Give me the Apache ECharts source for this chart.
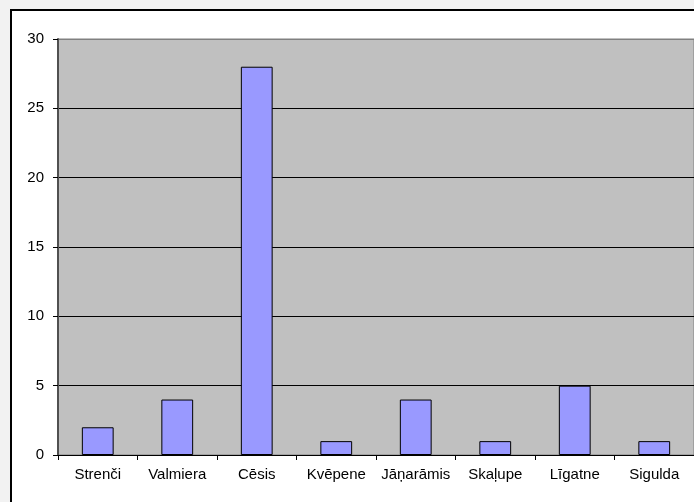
<!DOCTYPE html>
<html><head><meta charset="utf-8">
<script src="https://cdn.jsdelivr.net/npm/echarts@6/dist/echarts.min.js"></script>
<style>html,body{margin:0;padding:0;background:#f2f2f2;}#c{width:694px;height:502px;}</style>
</head><body><div id="c"></div>
<script>
const categories = ['Strenči','Valmiera','Cēsis','Kvēpene','Jāņarāmis','Skaļupe','Līgatne','Sigulda'];
const values = [2,4,28,1,4,1,5,1];
const yTicks = [0,5,10,15,20,25,30];

const chart = echarts.init(document.getElementById('c'), null, {renderer:'canvas'});
chart.setOption({
  backgroundColor: '#f2f2f2',
  animation: false,
  graphic: [{
    type: 'rect', z: -10, silent: true,
    shape: {x: 11, y: 10, width: 720, height: 520},
    style: {fill: '#ffffff', stroke: '#000000', lineWidth: 2}
  }],
  grid: {left: 58, top: 39, right: 0, bottom: 47, show: true,
         backgroundColor: '#c0c0c0', borderColor: '#808080', borderWidth: 1},
  xAxis: {
    type: 'category', data: categories,
    axisLine: {lineStyle: {color: '#000', width: 1}},
    axisTick: {show: true, length: 5, lineStyle: {color: '#000'}},
    axisLabel: {color: '#000', fontFamily: 'Liberation Sans, Arial', fontSize: 15, margin: 12, interval: 0}
  },
  yAxis: {
    type: 'value', min: yTicks[0], max: yTicks[yTicks.length-1], interval: 5,
    axisLine: {show: true, lineStyle: {color: '#505050', width: 2}},
    axisTick: {show: true, length: 5, lineStyle: {color: '#000'}},
    axisLabel: {color: '#000', fontFamily: 'Liberation Sans, Arial', fontSize: 15, margin: 14},
    splitLine: {show: true, lineStyle: {color: ['#000','#000','#000','#000','#000','#000','#808080'], width: 1}}
  },
  series: [{
    type: 'bar', data: values, barWidth: '40%',
    itemStyle: {color: '#9999ff', borderColor: '#000', borderWidth: 1}
  }]
});
</script></body></html>
